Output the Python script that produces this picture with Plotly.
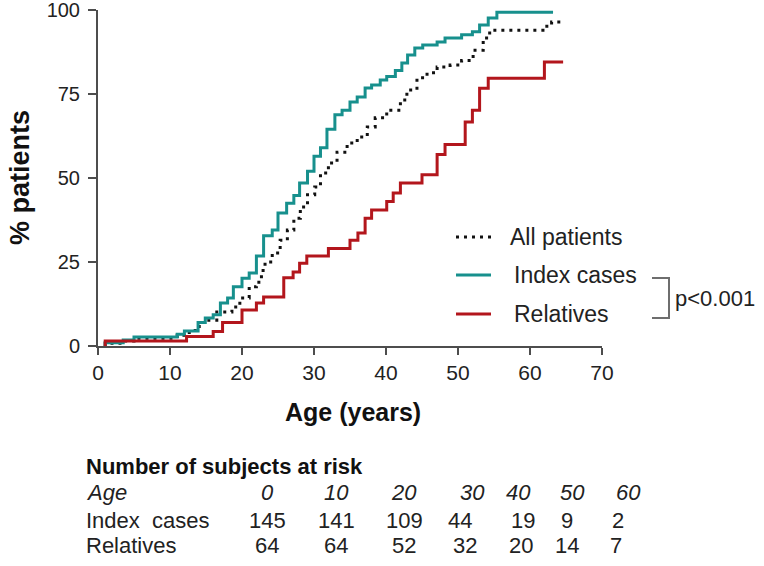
import plotly.graph_objects as go

# ---------------- data ----------------
index_age = [1, 1, 3.5, 5, 11, 12, 13.9, 14.9, 16, 17, 18, 18.8, 20, 21, 22, 23, 24.2, 25, 26.2,
             27.2, 28, 29.1, 30, 30.9, 31.8, 32.9, 33.9, 35, 36, 37.1, 38, 39.2, 40.1, 41.3,
             42.2, 43, 44, 45.1, 47.1, 48.2, 50.5, 52, 53, 54.2, 55.4, 63.2]
index_pct = [0, 1.0, 1.8, 2.7, 3.5, 4.5, 7.0, 8.3, 9.3, 12.8, 14.3, 17.6, 20.2, 21.7, 26.8, 32.8,
             34.5, 39.6, 42.5, 44.8, 48.5, 52.0, 56.5, 59.0, 64.5, 68.8, 70.2, 72.6, 74.1, 76.8,
             77.7, 79.2, 80.2, 82.0, 84.2, 86.6, 88.7, 89.6, 90.5, 91.7, 92.6, 93.5, 95.5, 97.6,
             99.3, 99.3]

rel_age = [1, 1, 12.3, 16, 17.3, 20, 22, 23, 25.8, 27.1, 28, 29, 32, 35, 36.1, 37.1, 38, 40.1,
           41, 42, 45, 47.1, 48.2, 51, 52, 53, 54.2, 62, 64.6]
rel_pct = [0, 1.5, 2.8, 4.3, 7.0, 10.7, 12.8, 14.6, 20.3, 22.0, 24.6, 26.8, 29.0, 31.5, 33.6,
           38.0, 40.5, 43.0, 45.5, 48.5, 51.0, 57.0, 60.0, 66.7, 70.2, 76.7, 79.7, 84.5, 84.5]

all_age = [1, 1, 3.5, 5, 11, 12, 13.5, 14.6, 16.5, 18.6, 19.7, 21, 22, 22.7, 23.2, 24.2, 25.3,
           26.3, 27.2, 28.1, 29.1, 30.1, 30.9, 32, 33.2, 34.6, 36, 37.4, 38.5, 40.1, 42, 42.9,
           44.3, 45.7, 47.1, 48.9, 50.5, 52.1, 53.5, 54.4, 61.8, 63, 64.4]
all_pct = [0, 0.8, 1.5, 2.3, 3.2, 4.0, 5.8, 7.7, 10.1, 11.6, 14.3, 17.6, 19.0, 22.5, 25.0, 27.7,
           31.5, 34.5, 38.0, 41.4, 45.0, 47.3, 51.5, 54.5, 57.7, 60.4, 62.2, 65.2, 67.9, 70.2,
           73.2, 76.2, 79.8, 81.3, 83.0, 83.6, 85.0, 88.0, 91.7, 94.0, 95.2, 96.4, 96.4]

x_ticks = [0, 10, 20, 30, 40, 50, 60, 70]
y_ticks = [0, 25, 50, 75, 100]

risk_ages = [0, 10, 20, 30, 40, 50, 60]
risk_index = [145, 141, 109, 44, 19, 9, 2]
risk_relatives = [64, 64, 52, 32, 20, 14, 7]

series_names = ["All patients", "Index cases", "Relatives"]
p_text = "p<0.001"

# ---------------- styles ----------------
TEAL = "#17908D"
RED = "#B3161C"
AXIS = "#4d4d4d"
TXT = "#222222"
FONT = "Liberation Sans, Arial, sans-serif"

W, H = 764, 566
L, R, T, B = 98, 602, 10, 346   # plot area in pixels


def px(x):
    return (x - L) / (R - L)


def py(y):
    return (B - y) / (B - T)


fig = go.Figure()
fig.add_trace(go.Scatter(x=all_age, y=all_pct, mode="lines", line_shape="hv",
                         line=dict(color="#111111", width=3, dash="3px,5px"),
                         name=series_names[0], showlegend=False, cliponaxis=False))
fig.add_trace(go.Scatter(x=index_age, y=index_pct, mode="lines", line_shape="hv",
                         line=dict(color=TEAL, width=3), name=series_names[1], showlegend=False,
                         cliponaxis=False))
fig.add_trace(go.Scatter(x=rel_age, y=rel_pct, mode="lines", line_shape="hv",
                         line=dict(color=RED, width=3), name=series_names[2], showlegend=False,
                         cliponaxis=False))

shapes = []
annotations = []

# legend samples
leg_y = [237, 275, 314]
leg_styles = [dict(color="#111111", width=3, dash="3px,5px"),
              dict(color=TEAL, width=3), dict(color=RED, width=3)]
leg_txt_x = [508, 512, 512]
for i, nm in enumerate(series_names):
    shapes.append(dict(type="line", xref="paper", yref="paper",
                       x0=px(456), x1=px(491), y0=py(leg_y[i]), y1=py(leg_y[i]),
                       line=leg_styles[i]))
    annotations.append(dict(text=nm, xref="paper", yref="paper", x=px(leg_txt_x[i]),
                            y=py(leg_y[i]), xanchor="left", yanchor="middle", showarrow=False,
                            font=dict(size=23, color=TXT, family=FONT)))

# bracket and p value
shapes.append(dict(type="path", xref="paper", yref="paper",
                   path=f"M {px(652)},{py(278)} L {px(669)},{py(278)} L {px(669)},{py(318)} L {px(652)},{py(318)}",
                   line=dict(color="#6e6e6e", width=2)))
annotations.append(dict(text=p_text, xref="paper", yref="paper", x=px(673), y=py(298),
                        xanchor="left", yanchor="middle", showarrow=False,
                        font=dict(size=22, color=TXT, family=FONT)))

# axis titles
annotations.append(dict(text="<b>Age (years)</b>", xref="paper", yref="paper", x=px(353),
                        y=py(412), xanchor="center", yanchor="middle", showarrow=False,
                        font=dict(size=25, color="#111111", family=FONT)))
annotations.append(dict(text="<b>% patients</b>", xref="paper", yref="paper", x=px(20),
                        y=py(178), xanchor="center", yanchor="middle", showarrow=False,
                        textangle=-90, font=dict(size=27, color="#111111", family=FONT)))

# at-risk table
annotations.append(dict(text="<b>Number of subjects at risk</b>", xref="paper", yref="paper",
                        x=px(84), y=py(466), xanchor="left", yanchor="middle", showarrow=False,
                        font=dict(size=22, color="#111111", family=FONT)))
row_y = [492, 520, 545]
row_labels = ["<i>Age</i>", "Index  cases", "Relatives"]
col_x = [[267, 336, 404, 472, 518, 572, 628],
         [267, 336, 404, 460, 523, 567, 618],
         [267, 336, 404, 465, 521, 567, 616]]
rows = [[f"<i>{a}</i>" for a in risk_ages],
        [str(v) for v in risk_index],
        [str(v) for v in risk_relatives]]
for r in range(3):
    annotations.append(dict(text=row_labels[r], xref="paper", yref="paper", x=px(84),
                            y=py(row_y[r]), xanchor="left", yanchor="middle", showarrow=False,
                            font=dict(size=22, color=TXT, family=FONT)))
    for c, t in enumerate(rows[r]):
        annotations.append(dict(text=t, xref="paper", yref="paper", x=px(col_x[r][c]),
                                y=py(row_y[r]), xanchor="center", yanchor="middle",
                                showarrow=False, font=dict(size=22, color=TXT, family=FONT)))

fig.update_layout(
    width=W, height=H,
    margin=dict(l=L, r=W - R, t=T, b=H - B, pad=0, autoexpand=False),
    paper_bgcolor="white", plot_bgcolor="white",
    showlegend=False,
    shapes=shapes, annotations=annotations,
    font=dict(family=FONT, color=TXT),
    xaxis=dict(range=[0, 70], tickvals=x_ticks, showgrid=False, zeroline=False,
               showline=True, linecolor=AXIS, linewidth=2, ticks="outside", ticklen=7,
               tickwidth=2, tickcolor=AXIS, automargin=False, ticklabeloverflow="allow",
               tickfont=dict(size=21, color=TXT, family=FONT)),
    yaxis=dict(range=[0, 100], tickvals=y_ticks, showgrid=False, zeroline=False,
               showline=True, linecolor=AXIS, linewidth=2, ticks="outside", ticklen=8,
               tickwidth=2, tickcolor=AXIS, automargin=False, ticklabeloverflow="allow",
               ticklabelstandoff=4, tickfont=dict(size=20, color=TXT, family=FONT)),
)

fig.write_html("out.html",
               config={"displayModeBar": False},
               post_script="document.body.style.margin='0';document.body.style.padding='0';")
